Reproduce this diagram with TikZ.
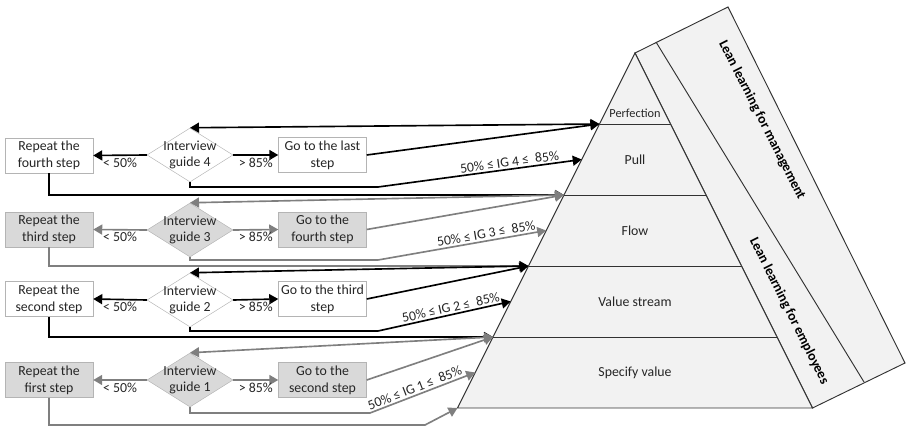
\documentclass[tikz,border=0pt]{standalone}
\usepackage{fontspec}
\setmainfont{Carlito}
\usetikzlibrary{shapes.geometric,arrows.meta}
\definecolor{boxgray}{RGB}{217,217,217}
\definecolor{edgegray}{RGB}{180,180,180}
\definecolor{linegray}{RGB}{127,127,127}
\definecolor{pyrfill}{RGB}{242,242,242}
\definecolor{pyrline}{RGB}{50,50,50}
\tikzstyle{repeatbox}=[rectangle,draw=edgegray,fill=white,minimum width=2.64cm,minimum height=1.06cm,inner sep=1pt,align=center,text=black!85,font=\fontsize{11.8}{14.2}\selectfont]
\tikzstyle{grayfill}=[fill=boxgray]
\tikzstyle{guide}=[diamond,draw=edgegray,fill=white,minimum width=2.58cm,minimum height=1.62cm,inner sep=-6pt,align=center,text=black!85,font=\fontsize{11.8}{14.2}\selectfont]
\tikzstyle{blackline}=[line width=1.4pt,draw=black,-{Triangle[length=0.27cm,width=0.3cm]}]
\tikzstyle{grayline}=[blackline,draw=linegray]
\tikzstyle{both}=[{Triangle[length=0.27cm,width=0.3cm]}-{Triangle[length=0.27cm,width=0.3cm]}]
\tikzstyle{pct}=[inner sep=1.5pt,text=black!85,font=\fontsize{11.8}{14.2}\selectfont]
\tikzstyle{pyramid}=[draw=pyrline,line width=0.8pt,fill=pyrfill]
\tikzstyle{level}=[text=black!85,font=\fontsize{11.8}{14.2}\selectfont]
\tikzstyle{side}=[text=black,font=\fontsize{11.8}{14.2}\selectfont\bfseries]

\begin{document}
\begin{tikzpicture}[x=0.03cm,y=-0.03cm]
\useasboundingbox (0,0) rectangle (912,428);

% pyramid and side bands
\coordinate (apex) at (635,53);
\coordinate (bl) at (457.5,408);
\coordinate (br) at (812.5,408);
\coordinate (t1) at (656,42);
\coordinate (t2) at (728,7);
\coordinate (b1) at (864,382);
\coordinate (b2) at (905,363);
\draw [pyramid] (apex) -- (t2) -- (b2) -- (br) -- cycle;
\draw [pyramid] (t1) -- (b1);
\draw [pyramid] (apex) -- (bl) -- (br) -- cycle;
\foreach \k in {1,...,4} {
  \coordinate (lvl\k) at ({635-35.5*\k},{53+71*\k});
  \coordinate (mid\k) at ({635-35.5*(\k+0.5)},{53+71*(\k+0.5)});
  \draw [pyramid] (lvl\k) -- ({635+35.5*\k},{53+71*\k});
}

\node (perf) at (635,113) [level,font=\fontsize{10.5}{12}\selectfont] {Perfection};
\node (pull) at (635,160) [level] {Pull};
\node (flow) at (635,231) [level] {Flow};
\node (vstream) at (635,302) [level] {Value stream};
\node (spec) at (635,373) [level] {Specify value};
\node (mgmt) at (762,120) [side,rotate=-63] {Lean learning for management};
\node (empl) at (789,311) [side,rotate=-63.5] {Lean learning for employees};

% interview guides
\node (rep4) at (49,155.5) [repeatbox] {Repeat the\\fourth step};
\node (ig4) at (190,155) [guide] {Interview\\guide 4};
\node (go4) at (322.5,155) [repeatbox] {Go to the last\\step};

\node (rep3) at (49,229.5) [repeatbox,grayfill] {Repeat the\\third step};
\node (ig3) at (190,230) [guide,grayfill] {Interview\\guide 3};
\node (go3) at (322.5,229.5) [repeatbox,grayfill] {Go to the\\fourth step};

\node (rep2) at (49,299) [repeatbox] {Repeat the\\second step};
\node (ig2) at (190,300) [guide] {Interview\\guide 2};
\node (go2) at (322.5,299) [repeatbox] {Go to the third\\step};

\node (rep1) at (49,380) [repeatbox,grayfill] {Repeat the\\first step};
\node (ig1) at (190,380) [guide,grayfill] {Interview\\guide 1};
\node (go1) at (322.5,380) [repeatbox,grayfill] {Go to the\\second step};

% row 4
\draw [blackline] (ig4.west) -- (rep4.east) node [pct,midway,below] {< 50\%};
\draw [blackline] (ig4.east) -- (go4.west) node [pct,midway,below] {> 85\%};
\draw [blackline,both] (ig4.north) -- (lvl1);
\draw [blackline] (go4.east) -- (lvl1);
\draw [blackline] (ig4.south) |- (378,187) -- (mid1) node [pct,sloped,above,pos=0.65] {50\% ≤ IG 4 ≤\ \ 85\%};
\draw [blackline] (rep4.south) |- (lvl2);

% row 3
\draw [grayline] (ig3.west) -- (rep3.east) node [pct,midway,below] {< 50\%};
\draw [grayline] (ig3.east) -- (go3.west) node [pct,midway,below] {> 85\%};
\draw [grayline,both] (ig3.north) -- (lvl2);
\draw [grayline] (go3.east) -- (lvl2);
\draw [grayline] (ig3.south) |- (378,260) -- (mid2) node [pct,sloped,above,pos=0.65] {50\% ≤ IG 3 ≤\ \ 85\%};
\draw [grayline] (rep3.south) |- (lvl3);

% row 2
\draw [blackline] (ig2.west) -- (rep2.east) node [pct,midway,below] {< 50\%};
\draw [blackline] (ig2.east) -- (go2.west) node [pct,midway,below] {> 85\%};
\draw [blackline,both] (ig2.north) -- (lvl3);
\draw [blackline] (go2.east) -- (lvl3);
\draw [blackline] (ig2.south) |- (378,331) -- (mid3) node [pct,sloped,above,pos=0.56] {50\% ≤ IG 2 ≤\ \ 85\%};
\draw [blackline] (rep2.south) |- (lvl4);

% row 1
\draw [grayline] (ig1.west) -- (rep1.east) node [pct,midway,below] {< 50\%};
\draw [grayline] (ig1.east) -- (go1.west) node [pct,midway,below] {> 85\%};
\draw [grayline,both] (ig1.north) -- (lvl4);
\draw [grayline] (go1.east) -- (lvl4);
\draw [grayline] (ig1.south) |- (370,413) -- (mid4) node [pct,sloped,above,pos=0.45] {50\% ≤ IG 1 ≤\ \ 85\%};
\draw [grayline] (rep1.south) |- (425,425) -- (bl);
\end{tikzpicture}
\end{document}
